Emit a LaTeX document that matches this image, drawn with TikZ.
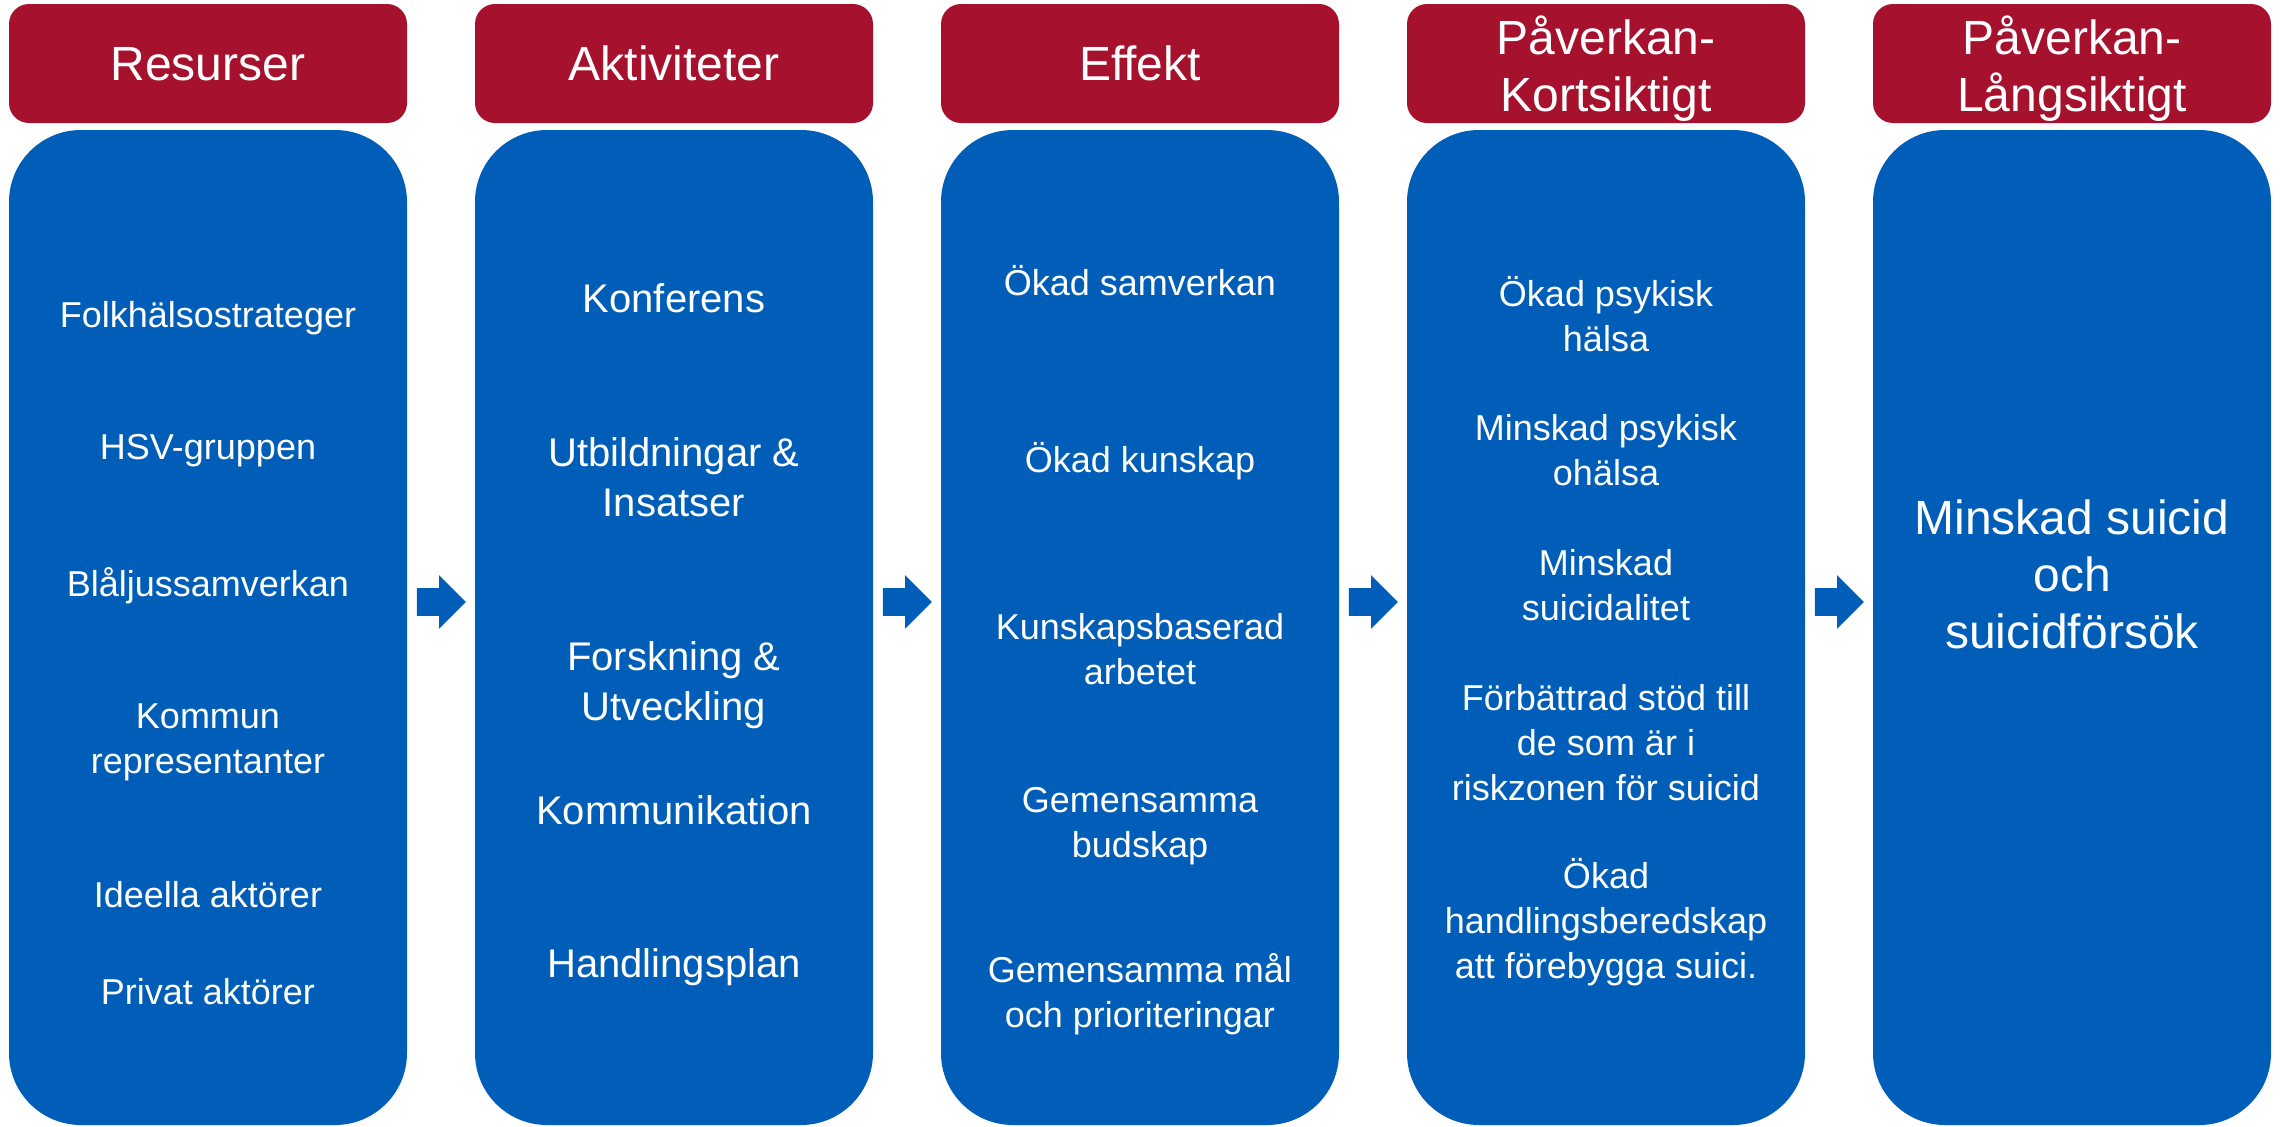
\documentclass[tikz,border=0pt]{standalone}
\usepackage{fontspec}
\setmainfont{Liberation Sans}
\usetikzlibrary{shapes.arrows,calc}
\definecolor{hrod}{RGB}{166,18,46}
\definecolor{hbla}{RGB}{0,94,184}

\begin{document}
\begin{tikzpicture}[x = 0.5pt, y = -0.5pt,
    head/.style = {rectangle, rounded corners = 10pt, fill = hrod, text = white, minimum width = 199pt, minimum height = 59.5pt, align = center, text depth = 0pt, font = \fontsize{24pt}{28.5pt}\selectfont},
    body/.style = {rectangle, rounded corners = 36pt, fill = hbla, minimum width = 199pt, minimum height = 497.5pt},
    item/.style = {text = white, align = center, text depth = 0pt, font = \fontsize{18pt}{22.5pt}\selectfont},
    big/.style = {item, font = \fontsize{20pt}{25pt}\selectfont},
    huge/.style = {item, font = \fontsize{24pt}{28.5pt}\selectfont},
    pil/.style = {single arrow, anchor = tail, fill = hbla, inner xsep = 0pt, inner ysep = 6.75pt, minimum height = 24.5pt, single arrow head extend = 6.5pt}]
  \useasboundingbox (0, 0) rectangle (2282, 1126);
  % rubriker
  \node [head] (h1) at (208, 63.5){Resurser};
  \node [head] (h2) at (674, 63.5){Aktiviteter};
  \node [head] (h3) at (1140, 63.5){Effekt};
  \node [head] (h4) at (1606, 63.5){Påverkan-\\Kortsiktigt};
  \node [head] (h5) at (2072, 63.5){Påverkan-\\Långsiktigt};
  % kolumner
  \node [body] (b1) at (208, 627.5){};
  \node [body] (b2) at (674, 627.5){};
  \node [body] (b3) at (1140, 627.5){};
  \node [body] (b4) at (1606, 627.5){};
  \node [body] (b5) at (2072, 627.5){};
  % pilar
  \node [pil] (p1) at ($(b1.east)!0.5!(b2.west) + (-24.5, -25.5)$){};
  \node [pil] (p2) at ($(b2.east)!0.5!(b3.west) + (-24.5, -25.5)$){};
  \node [pil] (p3) at ($(b3.east)!0.5!(b4.west) + (-24.5, -25.5)$){};
  \node [pil] (p4) at ($(b4.east)!0.5!(b5.west) + (-24.5, -25.5)$){};
  % resurser
  \node [item] (r1) at (208, 314){Folkhälsostrateger};
  \node [item] (r2) at (208, 447){HSV-gruppen};
  \node [item] (r3) at (208, 582){Blåljussamverkan};
  \node [item] (r4) at (208, 739){Kommun\\representanter};
  \node [item] (r5) at (208, 894){Ideella aktörer};
  \node [item] (r6) at (208, 991){Privat aktörer};
  % aktiviteter
  \node [big] (a1) at (674, 298){Konferens};
  \node [big] (a2) at (674, 477){Utbildningar \&\\Insatser};
  \node [big] (a3) at (674, 681){Forskning \&\\Utveckling};
  \node [big] (a4) at (674, 810){Kommunikation};
  \node [big] (a5) at (674, 963){Handlingsplan};
  % effekt
  \node [item] (e1) at (1140, 280){Ökad samverkan};
  \node [item] (e2) at (1140, 457){Ökad kunskap};
  \node [item] (e3) at (1140, 649){Kunskapsbaserad\\arbetet};
  \node [item] (e4) at (1140, 822){Gemensamma\\budskap};
  \node [item] (e5) at (1140, 990){Gemensamma mål\\och prioriteringar};
  % kortsiktigt
  \node [item] (k1) at (1606, 314){Ökad psykisk\\hälsa};
  \node [item] (k2) at (1606, 450){Minskad psykisk\\ohälsa};
  \node [item] (k3) at (1606, 585){Minskad\\suicidalitet};
  \node [item] (k4) at (1606, 742){Förbättrad stöd till\\de som är i\\riskzonen för suicid};
  \node [item] (k5) at (1606, 918){Ökad\\handlingsberedskap\\att förebygga suici.};
  % långsiktigt
  \node [huge] (l1) at (2072, 574){Minskad suicid\\och\\suicidförsök};
\end{tikzpicture}
\end{document}
